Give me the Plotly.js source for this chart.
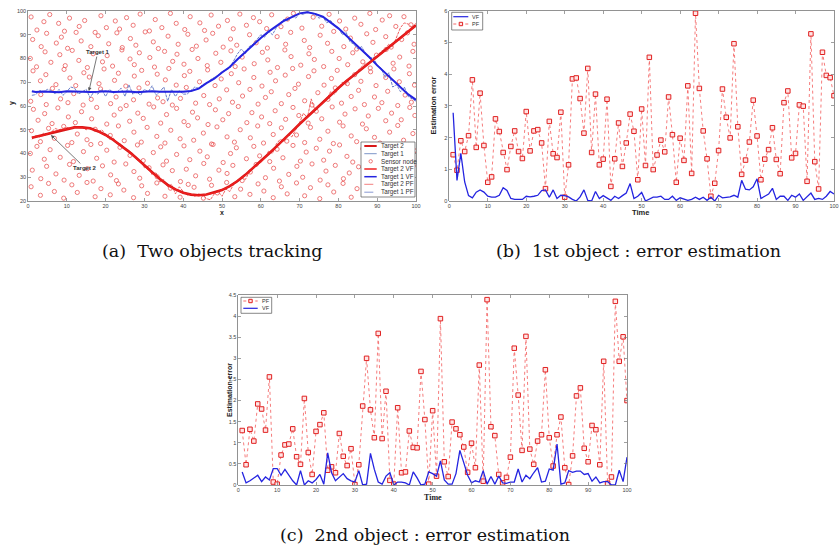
<!DOCTYPE html>
<html>
<head>
<meta charset="utf-8">
<script src="https://cdn.plot.ly/plotly-3.0.1.min.js"></script>
<style>html,body{margin:0;padding:0;background:#fff;}#chart{width:839px;height:550px;}</style>
</head>
<body>
<div id="chart"></div>
<script>
// ---------- Panel (a): two objects tracking ----------
const trajX = [1,2,4,6,8,10,12,14,16,18,20,22,24,26,28,30,32,34,36,38,40,42,44,46,48,50,52,54,56,58,60,62,64,66,68,70,72,74,76,78,80,82,84,86,88,90,92,94,96,98,100];
const target1True = [66,66,66,66,66,66,66,66,66,66,66,66,66,66,66,66,66,66,66,66,66,
  66.2,67.4,69.5,71.6,74,76.5,79.6,82.8,85.9,88.7,91.2,93.6,95.8,97.5,98.9,99.6,98.9,97.5,95.4,92.6,89.8,86.6,83.5,80.4,77.2,74,70.9,68.1,65,62.5];
const target1VF = [66.2,65.9,66.1,66,65.8,66.2,66,66.1,65.9,66,66.2,65.9,66,66.1,65.8,66,66.2,66,65.9,66.1,66.0,
  66.3,67.3,69.6,71.5,74.1,76.4,79.7,82.7,86,88.6,91.3,93.5,95.9,97.4,99,99.5,98.8,97.6,95.3,92.7,89.7,86.7,83.4,80.5,77.1,74.1,70.8,68.2,64.9,62.6];
const target2True = [46.6,47,47.8,48.8,49.6,50.4,51,51,50.6,49.4,47.8,45.7,43.3,40.8,38,34.9,32.1,29.3,26.8,24.9,23.5,
  22.7,22.4,22.7,23.5,24.6,26.3,28.4,31,33.8,36.6,39.8,42.9,45.9,49.2,52.4,55.5,58.5,61.5,64.6,67.6,70.4,73.2,75.6,78.2,80.8,83.4,86,88.6,91.3,94];
const target2VF = [46.8,47.1,47.6,48.9,49.8,50.3,51.1,50.9,50.5,49.5,47.6,45.8,43.1,40.9,37.8,35.1,31.9,29.5,26.6,25.1,23.4,
  22.8,22.3,22.8,23.4,24.8,26.1,28.6,30.8,34,36.4,40,42.7,46.1,49,52.6,55.3,58.7,61.3,64.8,67.4,70.6,73,75.8,78,81,83.2,86.2,88.4,91.5,93.8];
const target1PF = [64.5,64.8,66.5,66,67,66.5,65,67,64.5,66, 68,67.5,65,66,67,63.5,66,65,67,64,
  67,65.5,66,67.5,64,69,65,66,64.5,67, 66,68.5,64.5,66,68,62,67,64,66.5,65,
  65,66.5,68,67.5,69,69.5,71,72,73,74.5, 75,76,79,82,84,82,85,86,88,90,
  89,91.5,90,93,95,96.5,96,98,97,99, 98.5,99.8,99,98.5,97,97.5,95,96,94,93,
  90,91,87,86,84,85,82,80,80.5,77, 76,72,74,68,69,66,68,64,63,62];
const target2PF = [46,47.5,47,48.5,48,49,50.5,50,50.5,51, 50.5,51.5,51,51,50,51,50,49,50,48,
  46,46.5,44,44,42,41,40,37.5,37,34, 34.5,31,32,28,29,26,27,23,26,24,
  22.5,23,22,23,22.5,21,20.5,23,24,22, 25,24,27,28,30,29,32,34,35,37,
  38,41,40,44,46,45,48,47,50,53, 57,55,63,58,60,62,63,66,65,67,
  70,69,72,73,75,76.5,78,78,80,81, 83,84,86,85,89,93,95,94.5,93,95];
const sensorNodes = [
 [0.8,97.5],[2.3,92],[4.1,95.5],[5.6,98.5],[7.9,94.8],[9.4,91.5],[10.7,97],[13.2,93.5],[14.6,96],[17.3,91],[18.8,98],[20.2,93],[22.5,95.8],[23.6,92.4],[25.4,97.2],[27.1,94],[28.9,98.7],[31.3,91.6],[32.8,96.4],[34.5,93],[36.7,99],[38.2,94.8],[40.4,92.2],[41.8,97.6],[44.3,95],[45.5,91.8],[47.2,98.3],[49.1,93.6],[51.4,96],[52.9,92.5],[54.6,98.7],[56.3,94],[58.1,97.2],[59.7,95.5],[61.5,92.6],[62.8,98.4],[65.2,93.4],[66.9,96.6],[68.4,99],[70.6,92.8],[73.5,97.4],[75.7,93.6],[77.6,98.6],[80.3,95.8],[81.9,92.4],[84.2,97],[85.8,94.4],[88.1,99],[89.6,92.2],[91.3,96.2],[93.2,98],[94.8,93.5],[96.9,97.6],[98.7,94.2],
 [1.2,88],[3.4,85],[4.8,90.6],[7.3,86.5],[8.6,89],[10.2,84.3],[12.4,91],[13.7,87.4],[16.2,85],[18.1,89.6],[20.8,86.2],[22.9,90.8],[24.3,84.6],[26.4,88.4],[27.8,85.6],[30.2,91.2],[32.3,87],[33.6,84.2],[36.1,89.4],[38.7,86],[41.2,90.2],[43.4,85.2],[45.9,87.8],[47.6,90.6],[50.3,84.8],[52.2,88.2],[53.8,85.6],[57.1,90],[58.8,86.6],[61.7,84.4],[64.2,89.2],[66.4,86],[67.7,91],[71.2,87.6],[72.6,84.6],[75.3,89.8],[77.2,86.4],[78.8,91.4],[81.4,85],[83.1,88.6],[84.7,84],[87.3,90.4],[88.9,86.8],[92.2,89.2],[93.6,84.8],[96.3,88],[97.8,90.8],[99.5,86],
 [0.6,80],[2.2,76.5],[4.4,82.8],[5.9,78.4],[8.2,81.6],[9.6,77],[11.4,83.4],[13.1,79.2],[15.3,76.2],[16.8,82],[19.2,78.6],[20.4,81.2],[21.8,76.8],[24.2,83.6],[26.3,79.8],[27.4,77.4],[28.7,82.4],[31.4,80.4],[32.6,76.4],[35.2,83],[37.3,78.8],[38.4,81.8],[40.2,77.6],[42.3,83.8],[43.8,80],[46.2,77],[48.4,82.2],[49.7,78.4],[52.3,83.2],[53.4,76.6],[55.2,80.6],[58.3,77.8],[60.4,82.6],[61.8,79.4],[64.3,76.2],[66.2,83.6],[67.8,80.8],[70.3,77.2],[72.4,82],[73.8,79.6],[76.2,76.6],[78.3,83],[80.2,80],[82.4,77.4],[83.7,82.4],[86.3,78.6],[88.2,76],[89.8,81.4],[92.3,83.8],[94.1,78],[95.8,80.6],[98.2,76.8],[99.2,83],
 [1.3,74.8],[3.2,70.6],[4.6,73.2],[7.2,69],[9.3,75.4],[10.8,71.8],[12.3,68.6],[14.4,74],[15.8,72.2],[18.3,69.4],[19.6,75.6],[22.3,70.8],[23.3,73.8],[25.2,68.4],[27.4,72.6],[29.3,75],[30.8,69.6],[33.3,73.4],[35.4,71],[36.3,75.8],[38.2,68.8],[40.3,72.8],[41.7,74.6],[44.2,70.2],[46.3,75.2],[48.2,68.6],[49.8,71.4],[52.4,73.6],[54.3,69.8],[55.7,75.6],[58.2,72],[60.3,68.4],[62.4,74.2],[63.8,70.6],[66.3,73],[68.2,75.8],[69.7,69.2],[72.3,72.4],[73.7,74.8],[76.3,68.8],[78.2,71.6],[79.7,75],[82.3,69.4],[84.2,73.2],[85.8,70.4],[88.3,74.4],[89.7,68.6],[92.2,72],[94.3,75.6],[95.7,70.2],[98.3,73.6],[99.6,68.8],
 [0.7,62],[3.3,64.8],[4.7,60.6],[6.3,67.4],[8.4,63],[10.3,61.4],[11.8,65.2],[14.2,60.4],[16.3,62.8],[18.7,67.2],[21.3,61],[22.7,63.8],[25.3,60.2],[27.2,62.6],[28.6,67.6],[31.2,60.8],[33.4,63.4],[34.8,61.8],[37.2,60.4],[39.3,63.2],[40.8,67.8],[43.2,61.2],[45.3,64.4],[46.8,60.6],[49.3,63],[51.2,66.8],[52.7,61.6],[55.3,64.2],[57.2,67],[59.3,60.8],[61.2,63.6],[62.7,66],[65.3,61],[67.2,64.8],[68.8,67.4],[71.3,62.2],[73.2,60.4],[74.7,65.6],[77.3,62.8],[79.2,67.6],[80.8,61.2],[83.3,64],[85.2,66.6],[86.7,60.6],[89.3,63.8],[91.2,61.4],[92.7,66.2],[95.3,60.2],[97.2,64.6],[98.8,61.6],
 [1.4,58.6],[2.6,54],[4.3,56.8],[6.2,52.6],[7.7,59.2],[10.4,55.4],[12.2,53],[13.8,57.6],[16.4,54.6],[17.7,59.4],[20.3,52.4],[22.2,56.2],[23.8,58.8],[26.2,53.6],[28.3,57],[29.7,54.8],[32.4,59.6],[34.2,52.8],[35.7,56.4],[38.3,59],[40.2,53.4],[42.4,57.4],[43.7,55],[46.4,52.2],[48.3,58.4],[50.2,54.2],[51.7,56.8],[54.2,59.8],[56.4,53],[57.7,57.2],[60.2,55.4],[62.3,52.6],[63.7,58],[66.4,54.4],[68.3,59.4],[69.8,56],[72.2,52.8],[74.3,57.8],[75.7,54.6],[78.4,59.6],[80.3,53.2],[81.7,56.6],[84.3,58.8],[86.2,52.4],[87.7,55.8],[90.3,59],[92.2,53.8],[93.7,57],[96.2,54.2],[98.4,59.4],[99.7,56],
 [0.9,49.6],[3.2,45],[5.3,50.6],[6.8,46.4],[9.2,51.4],[11.3,44.6],[12.7,48.2],[15.2,45.8],[17.3,50.2],[18.7,44.2],[21.2,47.6],[23.3,51.6],[24.8,45.4],[27.3,49],[29.2,44.8],[30.7,51],[33.2,47.2],[35.3,44.4],[36.8,49.8],[39.2,46.2],[41.3,51.8],[42.7,45.6],[45.2,48.6],[47.3,44],[48.7,51.2],[51.3,47],[53.2,44.8],[54.7,50],[57.3,46.6],[59.2,51.6],[60.7,44.4],[63.2,48],[65.3,50.8],[66.7,45.2],[69.2,47.8],[71.3,44.6],[72.8,51],[75.2,46],[77.3,49.4],[78.7,44.2],[81.2,51.6],[83.3,47.4],[84.7,45],[87.2,50.4],[89.3,46.8],[90.7,44.4],[93.2,49],[95.3,51.8],[96.8,45.6],[99.2,48.4],
 [0.6,40],[2.3,43],[4.2,37.6],[5.7,41.6],[8.3,38.4],[10.2,43.4],[11.7,36.6],[14.3,40.8],[16.2,43.8],[17.7,38],[20.3,41.4],[22.2,36.4],[23.7,42.6],[26.3,39.2],[28.2,43.6],[29.7,37],[32.3,40.4],[34.2,42.8],[35.7,36.8],[38.3,39.6],[40.2,43.2],[41.7,37.4],[44.3,41],[46.2,38.6],[47.7,43.8],[50.3,36.2],[52.2,40],[53.7,42.4],[56.3,37.8],[58.2,43],[59.7,39],[62.3,36.6],[64.2,41.8],[65.7,38.2],[68.3,43.4],[70.2,36.8],[71.7,40.6],[74.3,42.2],[76.2,37.2],[77.7,41],[80.3,43.6],[82.2,38.8],[83.7,36.4],[86.3,42],[88.2,39.4],[89.7,43],[92.3,37],[94.2,40.8],[95.7,42.8],[98.3,38],[99.6,41.2],
 [1.1,33],[3.3,29.4],[4.8,34.6],[7.2,31.4],[9.3,28.8],[10.7,35.4],[13.2,30.8],[15.3,33.6],[16.8,28.4],[19.2,34.8],[21.3,31],[22.8,28.6],[25.2,35.6],[27.3,32.4],[28.8,29.6],[31.2,34],[33.3,30.2],[34.8,35.2],[37.2,32.8],[39.3,28.2],[40.8,33.4],[43.2,30.6],[45.3,35.8],[46.8,29.2],[49.2,33],[51.3,31.6],[52.8,35],[55.2,28.6],[57.3,32.2],[58.8,35.4],[61.2,29.8],[63.3,33.8],[64.8,28.4],[67.2,31.2],[69.3,34.6],[70.8,30],[73.2,35.6],[75.3,28.8],[76.8,32.6],[79.2,35],[81.3,29.4],[82.8,31.8],[85.2,34.4],[87.3,28.2],[88.8,32.8],[91.2,35.8],[93.3,30.4],[94.8,33.4],[97.2,29],[99.3,34.8],
 [0.8,26],[3.2,22.4],[5.3,27.4],[6.8,24],[9.2,21.2],[11.3,26.8],[12.7,23.6],[15.2,27.8],[17.3,21.8],[18.8,25.2],[21.2,22.6],[23.3,27.2],[24.7,24.6],[27.2,21.4],[29.3,26.4],[30.8,23.2],[33.2,27.6],[35.3,22],[36.7,25.4],[39.2,21.6],[41.3,27],[42.8,25.8],[45.2,21.2],[47.3,26.6],[48.8,23.4],[51.2,27.8],[53.3,21.8],[54.8,25],[57.2,22.8],[59.3,27.2],[60.8,24.2],[63.2,21.4],[65.3,26],[66.8,23],[69.2,27.6],[71.3,22.2],[72.8,25.6],[75.2,21],[77.3,26.8],[78.8,23.8],[81.2,27.4],[83.3,21.6],[84.8,25.2]
];

// ---------- Panels (b) and (c): estimation error ----------
const errPF1 = [1.46,0.97,1.90,1.56,2.06,3.82,1.69,3.40,1.75,0.59, 0.76,2.59,2.19,1.53,0.99,1.72,2.21,1.56,1.34,2.82,
  1.58,2.21,2.25,1.83,0.39,2.51,1.49,1.37,2.80,0.12, 1.14,3.85,3.88,3.23,2.14,4.18,1.53,3.37,1.14,1.32,
  3.21,0.46,1.33,2.46,1.09,1.83,2.74,2.20,0.67,2.90, 1.12,4.53,0.99,1.45,1.92,1.55,3.28,2.09,0.59,1.98,
  1.28,3.63,0.87,5.92,3.55,2.21,1.33,0.15,0.56,1.59, 3.53,2.64,1.99,4.96,2.34,0.84,1.29,1.86,3.18,2.05,
  0.67,1.32,1.62,2.31,1.31,0.86,3.10,3.47,1.36,1.50, 3.03,2.99,0.62,5.27,1.24,0.38,4.69,3.96,3.89,3.32];
const errVF1 = [2.78,0.65,1.5,0.6,0.17,0.1,0.28,0.35,0.28,0.15, 0.12,0.12,0.18,0.42,0.33,0.08,0.05,0.05,0.05,0.15,
  0.13,0.15,0.18,0.33,0.35,0.12,0.35,0.08,0.18,0.17, 0.13,0.05,0.0,0.13,0.35,0.02,0.0,0.3,0.08,0.17,
  0.08,0.02,0.15,0.08,0.17,0.25,0.55,0.08,0.15,0.27, 0.0,0.05,0.12,0.12,0.15,0.05,0.05,0.15,0.02,0.1,
  0.05,0.02,0.05,0.12,0.05,0.12,0.02,0.12,0.0,0.18, 0.1,0.12,0.13,0.18,0.12,0.65,0.37,0.35,0.45,0.7,
  0.08,0.15,0.22,0.4,0.05,0.15,0.15,0.02,0.18,0.12, 0.22,0.02,0.12,0.25,0.05,0.08,0.05,0.15,0.3,0.22];
const errPF2 = [1.29,0.48,1.32,1.04,1.92,1.80,1.30,2.56,0.07,0.02, 0.71,0.95,0.97,1.33,0.67,0.49,2.05,0.77,0.25,1.27,
  1.43,1.71,0.35,0.43,0.29,1.22,0.68,0.46,0.86,0.01, 0.48,1.87,3.00,1.78,1.12,3.59,1.10,2.22,0.11,0.02,
  1.83,0.29,0.31,1.28,0.89,0.88,2.69,1.55,0.02,1.76, 0.21,3.94,0.55,0.20,1.49,1.33,1.19,0.90,0.30,0.99,
  0.41,2.84,0.09,4.39,1.38,1.17,0.25,0.05,0.18,0.66, 3.24,2.13,0.82,3.52,0.85,0.49,1.04,1.19,2.73,1.12,
  0.45,1.19,1.61,0.41,0.01,0.69,2.11,2.30,0.87,0.55, 1.41,1.31,0.48,2.93,0.04,0.19,4.35,2.93,3.51,2.00];
const errVF2 = [0.31,0.05,0.1,0.16,0.23,0.08,0.19,0.12,0.39,0.39, 0.23,0.37,0.23,0.1,0,0.34,0,0.1,0.05,0.13,
  0.25,0.02,0.76,0.29,0.1,0.19,0.27,0.15,0.1,0.07, 0.34,0,0.02,0.75,0.37,0.07,0.02,0.21,0.29,0,
  0.07,0.07,0.05,0,0.31,0.17,0,0.02,0.31,0.27, 0.21,0.57,0.12,0.02,0.02,0.27,0.82,0.53,0.23,0.05,
  0.1,0.07,0.34,0.02,0.2,0.02,0.21,0.05,0.04,0.07, 0.07,0.38,0.07,0.23,0.15,0.29,0.41,0.07,0.09,0.38,
  0.35,0.97,0.02,0.05,0.34,0.3,0.33,0.33,0.25,0.27, 0.09,0.19,0.05,0.08,0.08,0,0,0.35,0.08,0.66];
const timeSteps = Array.from({length: errPF1.length}, (_, i) => i + 1);

const captions = ['(a)\u00a0\u00a0Two objects tracking', '(b)\u00a0\u00a01st object : error estimation', '(c)\u00a0\u00a02nd object : error estimation'];
const legendA = ['Target 2', 'Target 1', 'Sensor node', 'Target 2 VF', 'Target 1 VF', 'Target 2 PF', 'Target 1 PF'];

// ---------- styling / layout ----------
const W = 839, H = 550;
const px = x => x / W, py = y => 1 - y / H;
const BLUE = '#2424e0', CIRC = '#ea5a5a';
const SANS = 'Liberation Sans, Arial, sans-serif';

const traces = [
  {x: sensorNodes.map(p => p[0]), y: sensorNodes.map(p => p[1]), xaxis: 'x', yaxis: 'y', mode: 'markers', type: 'scatter',
   marker: {symbol: 'circle-open', size: 4.2, color: CIRC, line: {width: 0.8, color: CIRC}}},
  {x: timeSteps, y: target1PF, xaxis: 'x', yaxis: 'y', mode: 'lines', line: {color: '#6b7fc8', width: 1, dash: '3px,1px'}},
  {x: trajX, y: target1True, xaxis: 'x', yaxis: 'y', mode: 'lines', line: {color: '#7d96c8', width: 1}},
  {x: trajX, y: target1VF, xaxis: 'x', yaxis: 'y', mode: 'lines', line: {color: BLUE, width: 2}},
  {x: timeSteps, y: target2PF, xaxis: 'x', yaxis: 'y', mode: 'lines', line: {color: '#f06060', width: 1, dash: '3px,1px'}},
  {x: trajX, y: target2True, xaxis: 'x', yaxis: 'y', mode: 'lines', line: {color: '#d81818', width: 2.6}},
  {x: trajX, y: target2VF, xaxis: 'x', yaxis: 'y', mode: 'lines', line: {color: '#f02020', width: 1.2}},

  {x: timeSteps, y: errPF1, xaxis: 'x2', yaxis: 'y2', mode: 'lines+markers',
   line: {color: '#f25a5a', width: 0.8, dash: 'dot'},
   marker: {symbol: 'square', size: 4.5, color: '#ffe4e4', line: {color: '#e02020', width: 1}}},
  {x: timeSteps, y: errVF1, xaxis: 'x2', yaxis: 'y2', mode: 'lines', line: {color: BLUE, width: 1.3}},

  {x: timeSteps, y: errPF2, xaxis: 'x3', yaxis: 'y3', mode: 'lines+markers',
   line: {color: '#f25a5a', width: 0.8, dash: 'dot'},
   marker: {symbol: 'square', size: 4.5, color: '#ffe4e4', line: {color: '#e02020', width: 1}}},
  {x: timeSteps, y: errVF2, xaxis: 'x3', yaxis: 'y3', mode: 'lines', line: {color: BLUE, width: 1.3}}
];

function ax(domain, range, dtick, anchor) {
  return {domain: domain, range: range, dtick: dtick, tick0: 0, anchor: anchor,
    showline: true, mirror: 'ticks', linecolor: '#777', linewidth: 0.8,
    ticks: 'inside', ticklen: 3, tickwidth: 0.7, tickcolor: '#777',
    showgrid: false, zeroline: false, fixedrange: true,
    tickfont: {family: SANS, size: 5.5, color: '#444'}};
}

const layout = {
  width: W, height: H, margin: {l: 0, r: 0, t: 0, b: 0},
  paper_bgcolor: '#fff', plot_bgcolor: '#fff', showlegend: false,
  xaxis: ax([px(28), px(416)], [0, 100], 10, 'y'),
  yaxis: ax([py(201), py(11)], [20, 100], 10, 'x'),
  xaxis2: ax([px(449.3), px(834)], [0, 100], 10, 'y2'),
  yaxis2: ax([py(201), py(10.7)], [0, 6], 1, 'x2'),
  xaxis3: ax([px(238.3), px(627)], [0, 100], 10, 'y3'),
  yaxis3: ax([py(485), py(295)], [0, 4.5], 0.5, 'x3'),
  shapes: [], annotations: []
};

const S = layout.shapes, A = layout.annotations;
function txt(x, y, t, o) {
  A.push(Object.assign({xref: 'paper', yref: 'paper', x: px(x), y: py(y), text: t, showarrow: false,
    xanchor: 'center', yanchor: 'middle', font: {family: SANS, size: 7, color: '#222'}}, o || {}));
}
function seg(x0, x1, y, color, width, dash) {
  S.push({type: 'line', xref: 'paper', yref: 'paper', x0: px(x0), x1: px(x1), y0: py(y), y1: py(y),
    line: {color: color, width: width, dash: dash || 'solid'}});
}
function box(x0, y0, x1, y1) {
  S.push({type: 'rect', xref: 'paper', yref: 'paper', x0: px(x0), x1: px(x1), y0: py(y1), y1: py(y0),
    fillcolor: '#fff', line: {color: '#555', width: 0.7}});
}

// legend (a)
box(361, 142, 415, 197);
const lyA = [146, 153.7, 161.3, 169, 176.7, 184.3, 192.2];
const lstyle = [['#d81818', 2, 'solid'], ['#7d96c8', 1, 'solid'], null, ['#f02020', 1.5, 'solid'], [BLUE, 1.5, 'solid'], ['#f06060', 0.8, 'dash'], ['#6b7fc8', 0.8, 'dash']];
legendA.forEach((lab, i) => {
  if (lstyle[i]) seg(364.3, 376.7, lyA[i], lstyle[i][0], lstyle[i][1], lstyle[i][2]);
  else S.push({type: 'circle', xref: 'paper', yref: 'paper', x0: px(369), x1: px(372.4), y0: py(lyA[i] + 1.7), y1: py(lyA[i] - 1.7), line: {color: CIRC, width: 0.8}});
  txt(378.6, lyA[i], lab, {xanchor: 'left', font: {family: SANS, size: 6.3, color: '#333'}});
});

// legend (b)
box(451.7, 12.3, 482.7, 30);
seg(453.3, 468.3, 16.7, BLUE, 1.2);
seg(453.3, 468.3, 24, '#f25a5a', 0.9, 'dot');
S.push({type: 'rect', xref: 'paper', yref: 'paper', x0: px(459.2), x1: px(462.6), y0: py(25.7), y1: py(22.3), fillcolor: '#ffe4e4', line: {color: '#e02020', width: 1}});
txt(470.2, 16.7, 'VF', {xanchor: 'left', font: {family: SANS, size: 5.5, color: '#333'}});
txt(470.2, 24, 'PF', {xanchor: 'left', font: {family: SANS, size: 5.5, color: '#333'}});

// legend (c)
box(241, 297.3, 271.7, 313.3);
seg(243.3, 257.7, 301, '#f25a5a', 0.9, 'dot');
S.push({type: 'rect', xref: 'paper', yref: 'paper', x0: px(248.8), x1: px(252.2), y0: py(302.7), y1: py(299.3), fillcolor: '#ffe4e4', line: {color: '#e02020', width: 1}});
seg(243.3, 257.7, 308.3, BLUE, 1.2);
txt(260, 301, 'PF', {xanchor: 'left', font: {family: SANS, size: 5.5, color: '#333'}});
txt(260, 308.3, 'VF', {xanchor: 'left', font: {family: SANS, size: 5.5, color: '#333'}});

// target arrows (a)
A.push({xref: 'x', yref: 'y', axref: 'x', ayref: 'y', x: 15.7, y: 66.3, ax: 18, ay: 82.7, text: '<b>Target 1</b>',
  showarrow: true, arrowhead: 2, arrowsize: 0.9, arrowwidth: 0.8, arrowcolor: '#555', standoff: 0,
  font: {family: SANS, size: 6, color: '#333'}});
A.push({xref: 'x', yref: 'y', axref: 'x', ayref: 'y', x: 5.9, y: 47.8, ax: 14.7, ay: 33.9, text: '<b>Target 2</b>',
  showarrow: true, arrowhead: 2, arrowsize: 0.9, arrowwidth: 0.8, arrowcolor: '#555', standoff: 0,
  font: {family: SANS, size: 6, color: '#333'}});

// axis titles
txt(222, 212, '<b>x</b>', {font: {family: SANS, size: 7, color: '#222'}});
txt(12, 103, '<b>y</b>', {textangle: -90, font: {family: SANS, size: 7, color: '#222'}});
txt(432.5, 106, '<b>Estimation error</b>', {textangle: -90, font: {family: SANS, size: 7.5, color: '#222'}});
txt(640, 212, '<b>Time</b>', {font: {family: SANS, size: 7.5, color: '#222'}});
txt(229, 390, '<b>Estimation error</b>', {textangle: -90, font: {family: SANS, size: 7, color: '#222'}});
txt(433, 497, '<b>Time</b>', {font: {family: 'Liberation Serif, serif', size: 8, color: '#222'}});

// captions
const SERIF = {family: 'DejaVu Serif, Liberation Serif, serif', size: 17.5, color: '#111'};
txt(212.5, 250.5, captions[0], {font: SERIF});
txt(638.5, 250.5, captions[1], {font: SERIF});
txt(425, 534.7, captions[2], {font: SERIF});

Plotly.newPlot('chart', traces, layout, {staticPlot: true, displayModeBar: false});
</script>
</body>
</html>
